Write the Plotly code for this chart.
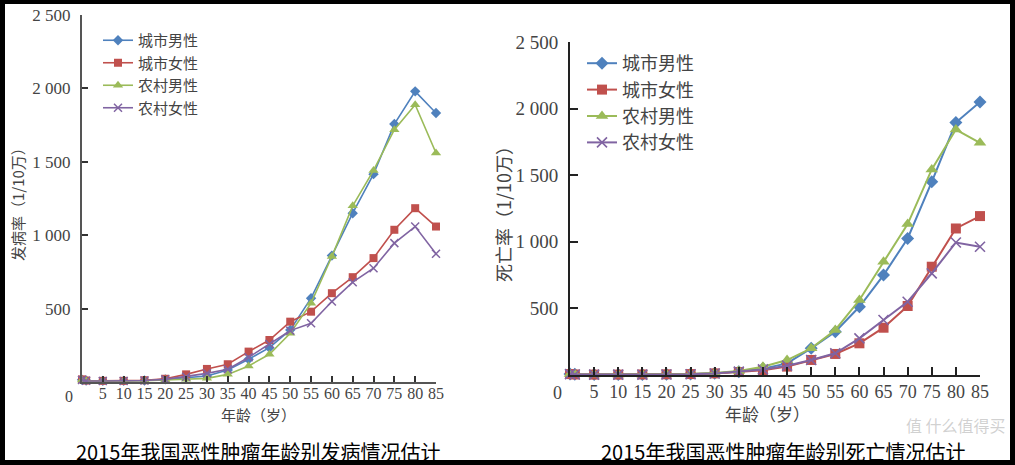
import plotly.graph_objects as go

W, H = 1015, 465

ages = [0, 1, 5, 10, 15, 20, 25, 30, 35, 40, 45, 50, 55, 60, 65, 70, 75, 80, 85]
series_names = ["城市男性", "城市女性", "农村男性", "农村女性"]

# 发病率 (1/10万)
inc_urban_male = [15, 10, 8, 8, 10, 18, 30, 41, 82, 155, 234, 355, 571, 861, 1150, 1416, 1757, 1980, 1832]
inc_urban_female = [18, 10, 8, 8, 12, 22, 52, 89, 121, 207, 286, 411, 479, 605, 714, 844, 1037, 1184, 1059]
inc_rural_male = [14, 8, 7, 7, 9, 14, 18, 25, 52, 109, 189, 332, 537, 855, 1200, 1441, 1719, 1889, 1560]
inc_rural_female = [14, 8, 7, 7, 10, 18, 36, 59, 87, 168, 259, 350, 400, 548, 680, 775, 946, 1059, 873]

# 死亡率 (1/10万)
mort_urban_male = [8, 5, 4, 4, 4, 5, 8, 14, 25, 48, 87, 200, 325, 512, 750, 1025, 1450, 1895, 2050]
mort_urban_female = [7, 4, 3, 3, 4, 5, 7, 12, 22, 35, 63, 113, 158, 238, 355, 518, 813, 1100, 1193]
mort_rural_male = [8, 5, 4, 4, 4, 5, 8, 15, 30, 62, 112, 200, 338, 563, 850, 1133, 1543, 1843, 1743]
mort_rural_female = [7, 4, 3, 3, 3, 4, 6, 11, 25, 42, 70, 113, 163, 275, 413, 550, 763, 995, 963]

x_tick_vals = [5, 10, 15, 20, 25, 30, 35, 40, 45, 50, 55, 60, 65, 70, 75, 80, 85]
y_tick_vals = [500, 1000, 1500, 2000, 2500]
y_tick_text = ["500", "1 000", "1 500", "2 000", "2 500"]

left_title = "2015年我国恶性肿瘤年龄别发病情况估计"
right_title = "2015年我国恶性肿瘤年龄别死亡情况估计"

colors = ["#4F81BD", "#C0504D", "#9BBB59", "#8064A2"]
symbols = ["diamond", "square", "triangle-up", "x-thin"]

CJK = "Noto Sans CJK SC"
SERIF = "Liberation Serif, Times New Roman, serif"

fig = go.Figure()

left_data = [inc_urban_male, inc_urban_female, inc_rural_male, inc_rural_female]
right_data = [mort_urban_male, mort_urban_female, mort_rural_male, mort_rural_female]

left_sizes = [8, 8, 9, 8]
right_sizes = [10, 10, 11, 10]

for i, (name, ys) in enumerate(zip(series_names, left_data)):
    fig.add_trace(go.Scatter(
        x=ages, y=ys, name=name, mode="lines+markers",
        xaxis="x", yaxis="y", legend="legend", cliponaxis=False,
        line=dict(color=colors[i], width=1.6),
        marker=dict(symbol=symbols[i], size=left_sizes[i], color=colors[i],
                    line=dict(color=colors[i], width=1.5 if symbols[i] == "x-thin" else 0)),
    ))

for i, (name, ys) in enumerate(zip(series_names, right_data)):
    fig.add_trace(go.Scatter(
        x=ages, y=ys, name=name, mode="lines+markers",
        xaxis="x2", yaxis="y2", legend="legend2", cliponaxis=False,
        line=dict(color=colors[i], width=2),
        marker=dict(symbol=symbols[i], size=right_sizes[i], color=colors[i],
                    line=dict(color=colors[i], width=1.6 if symbols[i] == "x-thin" else 0)),
    ))

def px_x(p):
    return p / W

def px_y(p):
    return 1 - p / H

axis_common = dict(showgrid=False, zeroline=False, showline=True, ticks="inside",
                   mirror=False, automargin=False)

fig.update_layout(
    width=W, height=H,
    margin=dict(l=0, r=0, t=0, b=0, autoexpand=False),
    paper_bgcolor="white", plot_bgcolor="rgba(0,0,0,0)",
    xaxis=dict(domain=[px_x(82), px_x(436)], range=[0, 85], anchor="y",
               tickvals=x_tick_vals, linecolor="#555555", linewidth=2,
               tickcolor="#333333", ticklen=6, tickwidth=1.5, ticklabelstandoff=-4,
               tickfont=dict(family=SERIF, size=16, color="#444444"), **axis_common),
    yaxis=dict(domain=[px_y(382), px_y(15)], range=[0, 2500], anchor="x",
               tickvals=y_tick_vals, ticktext=y_tick_text, linecolor="#555555", linewidth=2,
               tickcolor="#333333", ticklen=6, tickwidth=1.5, ticklabelstandoff=6,
               tickfont=dict(family=SERIF, size=17, color="#444444"), **axis_common),
    xaxis2=dict(domain=[px_x(570), px_x(980)], range=[0, 85], anchor="y2",
                tickvals=x_tick_vals, linecolor="#222222", linewidth=2,
                tickcolor="#222222", ticklen=8, tickwidth=1.5, ticklabelstandoff=-1,
                tickfont=dict(family=SERIF, size=18, color="#444444"), **axis_common),
    yaxis2=dict(domain=[px_y(375), px_y(42)], range=[0, 2500], anchor="x2",
                tickvals=y_tick_vals, ticktext=y_tick_text, linecolor="#222222", linewidth=2,
                tickcolor="#222222", ticklen=8, tickwidth=1.5, ticklabelstandoff=6,
                tickfont=dict(family=SERIF, size=19, color="#444444"), **axis_common),
    legend=dict(x=px_x(98), y=px_y(24), xanchor="left", yanchor="top",
                bgcolor="rgba(0,0,0,0)", font=dict(family=CJK, size=15, color="#444444"),
                tracegroupgap=0, itemwidth=30),
    legend2=dict(x=px_x(582), y=px_y(45), xanchor="left", yanchor="top",
                 bgcolor="rgba(0,0,0,0)", font=dict(family=CJK, size=18, color="#444444"),
                 tracegroupgap=0, itemwidth=30),
    showlegend=True,
)

def ann(text, x, y, size, color="#444444", angle=0, xanchor="center"):
    return dict(text=text, x=px_x(x), y=px_y(y), xref="paper", yref="paper",
                xanchor=xanchor, yanchor="middle", showarrow=False, textangle=angle,
                font=dict(family=SERIF if text == "0" else CJK, size=size, color=color))

annotations = [
    ann("0", 69, 396, 16),
    ann("0", 557, 393, 18),
    ann("发病率（1/10万）", 17, 201, 15, angle=-90),
    ann("死亡率（1/10万）", 503, 210, 18, angle=-90),
    ann("年龄（岁）", 258, 414, 15),
    ann("年龄（岁）", 767, 413, 17),
    ann(left_title, 258, 451, 20, color="#000000"),
    ann(right_title, 783, 451, 20, color="#000000"),
    ann("值 什么值得买", 1008, 425, 16, color="rgba(170,170,170,0.55)", xanchor="right"),
]
fig.update_layout(annotations=annotations)

# black frame around the picture
frame = [
    (0, 0, W, 4),
    (0, H - 5, W, H),
    (0, 0, 5, H),
    (W - 5, 0, W, H),
]
shapes = []
for x0, y0, x1, y1 in frame:
    shapes.append(dict(type="rect", xref="paper", yref="paper",
                       x0=px_x(x0), x1=px_x(x1), y0=px_y(y1), y1=px_y(y0),
                       fillcolor="black", line=dict(width=0), layer="above"))
fig.update_layout(shapes=shapes)

fig.write_html(
    "out.html",
    post_script="document.body.style.margin='0';document.body.style.padding='0';"
                "document.body.style.overflow='hidden';",
)
